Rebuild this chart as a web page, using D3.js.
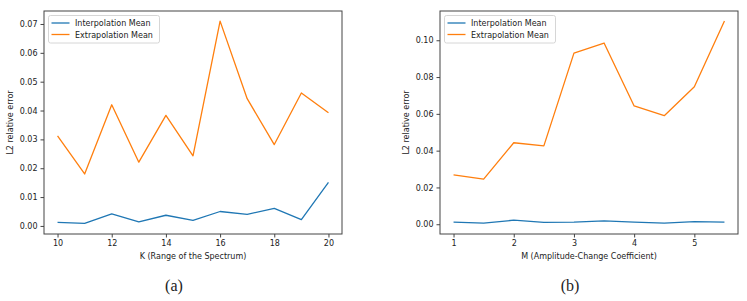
<!DOCTYPE html>
<html>
<head>
<meta charset="utf-8">
<script src="https://cdn.jsdelivr.net/npm/d3@7"></script>
<style>
  body { margin: 0; background: #fff; }
  text { font-family: "DejaVu Sans", sans-serif; fill: #222; }
</style>
</head>
<body>
<svg id="chart" width="747" height="301"></svg>
<script>
// panel (a)
var kValues = [10, 11, 12, 13, 14, 15, 16, 17, 18, 19, 20];
var kInterp = [0.0012, 0.0009, 0.0042, 0.0014, 0.0037, 0.0019, 0.0050, 0.0040, 0.0061, 0.0022, 0.0151];
var kExtrap = [0.0312, 0.0180, 0.0420, 0.0221, 0.0383, 0.0243, 0.0710, 0.0441, 0.0282, 0.0461, 0.0392];
var kTicks = [10, 12, 14, 16, 18, 20];
var kYTicks = [0, 0.01, 0.02, 0.03, 0.04, 0.05, 0.06, 0.07];

// panel (b)
var mValues = [1, 1.5, 2, 2.5, 3, 3.5, 4, 4.5, 5, 5.5];
var mInterp = [0.0011, 0.0006, 0.0022, 0.0010, 0.0012, 0.0018, 0.0012, 0.0006, 0.0014, 0.0012];
var mExtrap = [0.0268, 0.0245, 0.0443, 0.0426, 0.0930, 0.0985, 0.0643, 0.0590, 0.0747, 0.1105];
var mTicks = [1, 2, 3, 4, 5];
var mYTicks = [0, 0.02, 0.04, 0.06, 0.08, 0.10];

var seriesNames = ["Interpolation Mean", "Extrapolation Mean"];
var colors = ["#1f77b4", "#ff7f0e"];

var svg = d3.select("#chart");

function drawPanel(opt) {
    var g = svg.append("g");
    var x = d3.scaleLinear().domain(opt.xDomain).range([opt.left, opt.right]);
    var y = d3.scaleLinear().domain(opt.yDomain).range([opt.bottom, opt.top]);

    // series
    var line = d3.line().x(d => x(d[0])).y(d => y(d[1]));
    [opt.interp, opt.extrap].forEach(function (vals, i) {
        g.append("path")
            .datum(opt.xs.map((v, j) => [v, vals[j]]))
            .attr("d", line)
            .attr("fill", "none")
            .attr("stroke", colors[i])
            .attr("stroke-width", 1.3)
            .attr("stroke-linejoin", "round");
    });

    // frame
    g.append("rect")
        .attr("x", opt.left).attr("y", opt.top)
        .attr("width", opt.right - opt.left)
        .attr("height", opt.bottom - opt.top)
        .attr("fill", "none")
        .attr("stroke", "#444")
        .attr("stroke-width", 1);

    var xAxis = g.append("g")
        .attr("transform", "translate(0," + opt.bottom + ")")
        .call(d3.axisBottom(x).tickValues(opt.xTicks).tickSize(3.5).tickPadding(3)
            .tickFormat(d3.format("d")));
    var yAxis = g.append("g")
        .attr("transform", "translate(" + opt.left + ",0)")
        .call(d3.axisLeft(y).tickValues(opt.yTicks).tickSize(3.5).tickPadding(3)
            .tickFormat(d3.format(opt.yFormat)));
    [xAxis, yAxis].forEach(function (a) {
        a.select(".domain").remove();
        a.selectAll("line").attr("stroke", "#444");
        a.selectAll("text").style("font-size", "8px").style("font-family", "DejaVu Sans").attr("fill", "#222");
    });

    g.append("text")
        .attr("x", (opt.left + opt.right) / 2)
        .attr("y", opt.bottom + 25)
        .attr("text-anchor", "middle")
        .style("font-size", "8px")
        .text(opt.xLabel);

    g.append("text")
        .attr("transform", "translate(" + opt.yLabelX + "," + ((opt.top + opt.bottom) / 2) + ") rotate(-90)")
        .attr("text-anchor", "middle")
        .style("font-size", "8px")
        .text("L2 relative error");

    // legend
    var lg = g.append("g").attr("transform", "translate(" + (opt.left + 4.5) + "," + (opt.top + 4.5) + ")");
    lg.append("rect")
        .attr("width", 111).attr("height", 27.5)
        .attr("rx", 2)
        .attr("fill", "#fff")
        .attr("stroke", "#ccc")
        .attr("stroke-width", 0.8);
    seriesNames.forEach(function (name, i) {
        var yy = 7.5 + i * 11.5;
        lg.append("line")
            .attr("x1", 3).attr("x2", 21)
            .attr("y1", yy).attr("y2", yy)
            .attr("stroke", colors[i])
            .attr("stroke-width", 1.3);
        lg.append("text")
            .attr("x", 26.5).attr("y", yy + 3)
            .style("font-size", "8px")
            .text(name);
    });

    svg.append("text")
        .attr("x", (opt.left + opt.right) / 2 - 19)
        .attr("y", 291)
        .attr("text-anchor", "middle")
        .style("font-family", "Liberation Serif, serif")
        .style("font-size", "16px")
        .attr("fill", "#000")
        .text(opt.caption);
}

drawPanel({
    xs: kValues, interp: kInterp, extrap: kExtrap,
    xDomain: [9.5, 20.5], yDomain: [-0.0028, 0.0745],
    xTicks: kTicks, yTicks: kYTicks, yFormat: ".2f",
    left: 44, right: 342, top: 11, bottom: 234,
    xLabel: "K (Range of the Spectrum)", yLabelX: 13, caption: "(a)"
});

drawPanel({
    xs: mValues, interp: mInterp, extrap: mExtrap,
    xDomain: [0.775, 5.725], yDomain: [-0.0053, 0.1159],
    xTicks: mTicks, yTicks: mYTicks, yFormat: ".2f",
    left: 440, right: 738, top: 11, bottom: 234,
    xLabel: "M (Amplitude-Change Coefficient)", yLabelX: 409, caption: "(b)"
});
</script>
</body>
</html>
